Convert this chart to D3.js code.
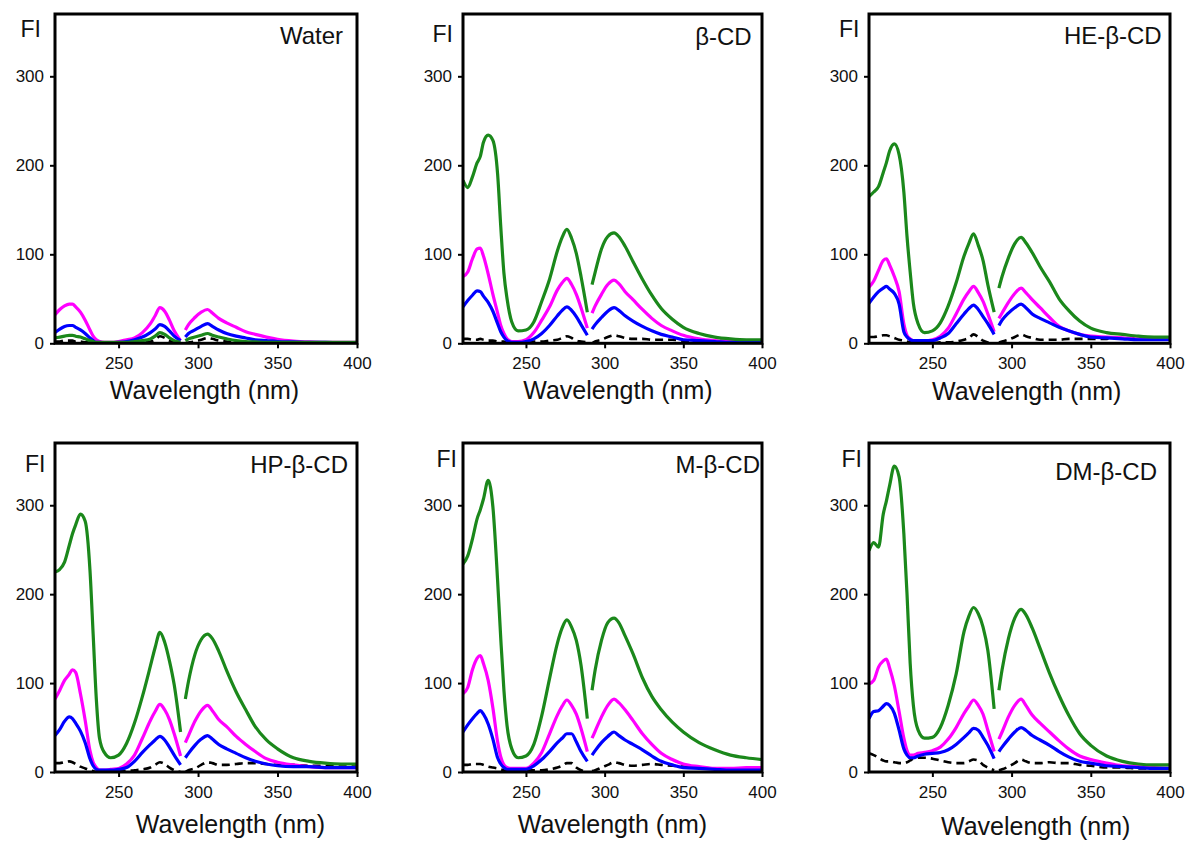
<!DOCTYPE html>
<html>
<head>
<meta charset="utf-8">
<script src="https://cdn.jsdelivr.net/npm/d3@7"></script>
<style>
  body { margin: 0; background: #fff; }
  svg { display: block; }
  text { font-family: "Liberation Sans", Arial, Helvetica, sans-serif; fill: #111; }
</style>
</head>
<body>
<svg id="chart" width="1187" height="843"></svg>
<script>
// ---- data -------------------------------------------------------------
const panelNames = ["Water", "β-CD", "HE-β-CD", "HP-β-CD", "M-β-CD", "DM-β-CD"];

// excitation branch (nm) and emission branch (nm); the spectra break near 290 nm
const excitationNm = [210,213,216,219,221,223,226,229,232,234,236,238,241,245,250,255,260,265,270,273,276,279,282,285,289];
const emissionNm   = [292,294,298,302,306,309,313,318,324,330,336,343,350,360,370,380,390,400];

const xTickValues = [250, 300, 350, 400];
const yTickValues = [0, 100, 200, 300];

// series order in every panel: blank (dashed), blue, magenta, green
// each row: excitation values followed by emission values
const waterFI = [
  [2,2,3,3,3,2,2,1,1,0,0,0,0,0,0,0,1,1,2,4,8,6,3,1,0,  0,1,2,4,6,5,3,2,1,1,1,0,0,0,0,0,0,0],
  [12,16,19,20,20,18,15,11,6,3,1,1,0.5,0.5,1,2,4,7,12,16,21,19,14,8,3,  7,11,15,19,22,19,15,11,8,6,4,3,2,1.5,1,1,0.5,0.5],
  [32,38,42,44,44,41,35,26,15,8,4,2,1,1,2,4,6,12,22,31,40,36,26,14,3,  15,21,29,35,38,34,28,23,18,13,10,7,4.5,2.5,1.5,1,1,1],
  [6,7,8,9,9,8,7,5,3,2,1,1,1,1,1,1,2,3,5,8,12,10,6,3,1,  3,5,7,9,11,9,7,5,3,2,1.5,1,1,1,1,1,1,1]
];
const betaCdFI = [
  [5,5,4,4,5,4,3,3,2,2,2,1,1,1,1,2,2,3,4,6,8,6,3,2,1,  0,2,4,7,9,8,6,5,5,4,4,4,3,3,3,2,2,2],
  [41,48,54,59,58,53,46,36,22,13,7,3,1,1,2,5,11,20,31,37,41,37,30,21,9,  16,21,29,36,40,37,31,25,19,14,10,7,4,3,2,1,1,1],
  [75,80,95,106,107,98,78,55,34,20,11,5,2,2,4,12,26,41,60,68,73,66,55,40,17,  34,42,55,66,71,67,58,49,38,28,20,14,9,5,3,2,2,2],
  [183,175,187,203,210,226,234,228,190,131,79,50,24,14,15,24,47,72,104,119,128,118,101,75,35,  66,80,106,120,124,120,109,92,72,54,39,27,18,11,7,5,4,4]
];
const heBetaCdFI = [
  [7,7,8,9,9,8,6,4,3,2,1,1,0,0,0,1,1,2,4,6,10,7,3,1,0,  1,2,4,7,10,8,6,4,4,4,5,5,5,5,6,6,6,6],
  [45,52,58,62,64,61,56,44,13,7,4,3,3,3,3,6,11,22,33,39,43,38,30,22,10,  20,26,34,40,44,40,33,28,23,18,14,10,7,6,5,4,4,4],
  [63,70,82,93,95,88,75,58,22,9,5,3,3,3,4,8,17,33,50,58,64,57,47,33,13,  28,34,46,56,62,57,49,40,29,19,14,10,8,7,6,5,5,5],
  [165,170,176,192,203,216,224,212,170,120,80,45,22,12,14,23,42,68,98,112,123,110,93,66,35,  62,75,96,112,119,113,102,86,69,50,37,25,17,12,10,8,7,7]
];
const hpBetaCdFI = [
  [10,10,11,12,11,9,6,4,2,1,0,0,0,1,1,1,2,3,5,8,11,9,5,2,0,  0,2,4,8,11,10,8,8,9,10,10,9,8,8,7,7,6,6],
  [41,48,57,62,60,55,46,33,15,7,3,2,2,2,3,5,12,22,31,36,40,36,28,19,8,  16,21,30,37,41,37,31,26,21,16,12,9,7,6,6,5,5,5],
  [82,92,103,110,115,112,88,58,24,11,5,2,2,3,4,9,19,38,58,68,76,70,59,43,18,  33,41,57,69,75,69,59,51,40,31,23,15,11,8,6,5,5,5],
  [225,228,236,255,268,278,290,282,227,155,82,38,22,16,19,32,55,85,119,140,157,146,125,98,45,  82,102,132,149,155,150,136,114,90,70,51,36,26,16,12,10,9,9]
];
const mBetaCdFI = [
  [8,8,9,9,9,8,6,5,4,3,2,1,1,1,2,2,2,3,5,7,10,10,5,2,0,  1,2,5,8,11,10,8,7,8,9,8,7,6,5,4,4,3,3],
  [45,53,60,66,69,65,54,37,16,9,5,3,3,3,3,7,14,23,33,38,43,43,34,23,12,  19,24,33,40,45,41,36,31,25,18,12,8,5,4,3,2,2,2],
  [88,95,115,128,131,122,103,72,34,17,8,5,4,4,4,10,22,43,64,74,81,75,65,49,23,  38,46,62,75,82,78,70,58,43,31,21,14,9,6,4,4,5,5],
  [234,243,262,285,295,307,328,298,215,150,92,52,26,16,18,31,63,105,145,162,171,163,148,120,60,  92,115,148,168,173,168,153,133,106,85,70,56,45,33,25,19,16,14]
];
const dmBetaCdFI = [
  [21,19,16,13,12,12,11,10,10,11,13,15,16,16,15,13,11,10,10,12,14,13,8,5,2,  2,3,6,10,14,12,10,10,11,10,10,8,7,5,5,4,4,4],
  [60,68,69,74,77,75,66,47,26,19,16,16,18,20,21,22,25,31,39,44,49,47,39,30,15,  23,28,37,45,50,47,41,36,30,23,17,12,10,7,6,5,4,4],
  [99,103,118,125,127,117,97,68,38,24,19,19,21,22,24,28,37,50,66,74,81,75,65,47,23,  37,45,62,75,82,75,64,55,45,35,26,18,14,10,7,6,5,4],
  [249,258,253,290,305,322,344,332,268,200,122,75,47,38,39,50,75,110,158,175,185,178,163,137,71,  92,115,150,173,183,177,162,139,111,86,64,43,30,18,12,9,8,8]
];
const panelData = [waterFI, betaCdFI, heBetaCdFI, hpBetaCdFI, mBetaCdFI, dmBetaCdFI];

// ---- styling / layout ---------------------------------------------------
const seriesStyles = [
  { color: "#000000", width: 2.6, dash: "8,5" },
  { color: "#0000ff", width: 3.2, dash: null },
  { color: "#ff00ff", width: 3.2, dash: null },
  { color: "#1b881b", width: 3.2, dash: null }
];

const colLeft  = [55, 463, 869];
const colRight = [357, 762, 1170];
const rowTop    = [14, 443];
const rowBottom = [343.3, 772];

// label anchors per panel: [FI right x, FI baseline], [title right x, baseline], [axis title centre x, baseline]
const fiPos     = [[41, 36.7], [453, 41.7], [859.5, 36.7], [45.5, 471.7], [457, 467], [862, 466.7]];
const titlePos  = [[343, 44], [751.7, 45], [1161.7, 44], [348, 472.7], [760, 473.3], [1157, 480]];
const xTitlePos = [[204.5, 399.3], [618, 399.3], [1026.7, 400], [230.5, 833.3], [612.5, 833.3], [1035.7, 835]];

const tickFont = 17;
const svg = d3.select("#chart");

panelData.forEach((rows, p) => {
  const col = p % 3, row = Math.floor(p / 3);
  const x = d3.scaleLinear().domain([210, 400]).range([colLeft[col], colRight[col]]);
  const y = d3.scaleLinear().domain([0, 370]).range([rowBottom[row], rowTop[row]]);

  const g = svg.append("g");

  // y axis (ticks outside, left)
  const yAxis = g.append("g")
    .attr("transform", `translate(${colLeft[col]},0)`)
    .call(d3.axisLeft(y).tickValues(yTickValues).tickSize(5).tickPadding(6).tickFormat(d3.format("d")));
  yAxis.select(".domain").remove();
  yAxis.selectAll(".tick line").attr("stroke", "#000").attr("stroke-width", 2);
  yAxis.selectAll(".tick text").attr("font-size", tickFont).style("font-family", "'Liberation Sans', Arial, sans-serif").attr("fill", "#111");

  // x axis (ticks outside, down)
  const xAxis = g.append("g")
    .attr("transform", `translate(0,${rowBottom[row]})`)
    .call(d3.axisBottom(x).tickValues(xTickValues).tickSize(5).tickPadding(9).tickFormat(d3.format("d")));
  xAxis.select(".domain").remove();
  xAxis.selectAll(".tick line").attr("stroke", "#000").attr("stroke-width", 2);
  xAxis.selectAll(".tick text").attr("font-size", tickFont).style("font-family", "'Liberation Sans', Arial, sans-serif").attr("fill", "#111");

  // spectra: each series is drawn as an excitation and an emission branch
  const clipId = "clip" + p;
  g.append("clipPath").attr("id", clipId).append("rect")
    .attr("x", colLeft[col]).attr("y", rowTop[row])
    .attr("width", colRight[col] - colLeft[col]).attr("height", rowBottom[row] - rowTop[row]);

  const line = d3.line()
    .x(d => x(d[0]))
    .y(d => y(d[1]))
    .curve(d3.curveMonotoneX);

  const plot = g.append("g").attr("clip-path", `url(#${clipId})`);
  const drawOrder = [0, 2, 1, 3];
  drawOrder.forEach(s => {
    const vals = rows[s];
    const st = seriesStyles[s];
    const exc = excitationNm.map((nm, i) => [nm, vals[i]]);
    const emi = emissionNm.map((nm, i) => [nm, vals[excitationNm.length + i]]);
    [exc, emi].forEach(seg => {
      plot.append("path")
        .datum(seg)
        .attr("d", line)
        .attr("fill", "none")
        .attr("stroke", st.color)
        .attr("stroke-width", st.width)
        .attr("stroke-linejoin", "round")
        .attr("stroke-linecap", "butt")
        .attr("stroke-dasharray", st.dash);
    });
  });

  // frame
  g.append("rect")
    .attr("x", colLeft[col]).attr("y", rowTop[row])
    .attr("width", colRight[col] - colLeft[col])
    .attr("height", rowBottom[row] - rowTop[row])
    .attr("fill", "none").attr("stroke", "#000").attr("stroke-width", 3);

  // texts
  g.append("text").attr("x", fiPos[p][0]).attr("y", fiPos[p][1])
    .attr("text-anchor", "end").attr("font-size", 23).text("FI");
  g.append("text").attr("x", titlePos[p][0]).attr("y", titlePos[p][1])
    .attr("text-anchor", "end").attr("font-size", 24).text(panelNames[p]);
  g.append("text").attr("x", xTitlePos[p][0]).attr("y", xTitlePos[p][1])
    .attr("text-anchor", "middle").attr("font-size", 25).text("Wavelength (nm)");
});
</script>
</body>
</html>
